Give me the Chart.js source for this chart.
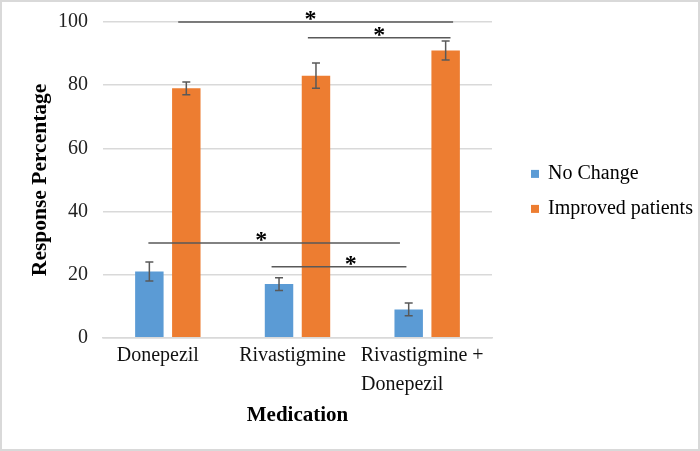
<!DOCTYPE html>
<html>
<head>
<meta charset="utf-8">
<script src="https://cdn.jsdelivr.net/npm/chart.js@4"></script>
<style>
  html, body { margin: 0; padding: 0; background: #fff; }
  #wrap { width: 700px; height: 451px; position: relative; box-sizing: border-box; border: 2px solid #d9d9d9; }
</style>
</head>
<body>
<div id="wrap"><canvas id="chart"></canvas></div>
<script>
const categories = ['Donepezil    ', 'Rivastigmine  ', ['Rivastigmine +  ', 'Donepezil          ']];
const seriesNames = ['No Change', 'Improved patients'];
const noChange = [21, 17, 9];
const noChangeErr = [3, 2, 2];
const improved = [79, 83, 91];
const improvedErr = [2, 4, 3];
const yTicks = [0, 20, 40, 60, 80, 100];

// significance brackets: y value, x range in category units, star x
const sigLines = [
  { y: 100, from: 0.08, to: 2.2, star: 1.1 },
  { y: 95, from: 1.08, to: 2.18, star: 1.63 },
  { y: 30, from: -0.15, to: 1.79, star: 0.72 },
  { y: 22.5, from: 0.8, to: 1.84, star: 1.41 }
];

const serif = "'Liberation Serif', 'Times New Roman', serif";

const errorBars = {
  id: 'errorBars',
  afterDatasetsDraw(chart) {
    const ctx = chart.ctx;
    const yScale = chart.scales.y;
    const errs = [noChangeErr, improvedErr];
    ctx.save();
    ctx.strokeStyle = '#595959';
    ctx.lineWidth = 1.5;
    chart.data.datasets.forEach((ds, di) => {
      const meta = chart.getDatasetMeta(di);
      meta.data.forEach((bar, i) => {
        const v = ds.data[i], e = errs[di][i];
        const y1 = yScale.getPixelForValue(v + e);
        const y2 = yScale.getPixelForValue(v - e);
        ctx.beginPath();
        ctx.moveTo(bar.x, y1); ctx.lineTo(bar.x, y2);
        ctx.moveTo(bar.x - 4, y1); ctx.lineTo(bar.x + 4, y1);
        ctx.moveTo(bar.x - 4, y2); ctx.lineTo(bar.x + 4, y2);
        ctx.stroke();
      });
    });
    ctx.restore();
  }
};

const sigPlugin = {
  id: 'sigPlugin',
  afterDatasetsDraw(chart) {
    const ctx = chart.ctx;
    const xs = chart.scales.x, ys = chart.scales.y;
    const w = xs.width / categories.length;
    const px = v => xs.getPixelForValue(0) + v * w;
    ctx.save();
    ctx.strokeStyle = '#595959';
    ctx.lineWidth = 1.5;
    ctx.fillStyle = '#000';
    ctx.font = 'bold 24px ' + serif;
    ctx.textAlign = 'center';
    ctx.textBaseline = 'alphabetic';
    sigLines.forEach(s => {
      const y = ys.getPixelForValue(s.y);
      ctx.beginPath();
      ctx.moveTo(px(s.from), y);
      ctx.lineTo(px(s.to), y);
      ctx.stroke();
      ctx.fillText('*', px(s.star), y + 4);
    });
    ctx.restore();
  }
};

// legend drawn to the right of the plot, like the original
const sideLegend = {
  id: 'sideLegend',
  afterDraw(chart) {
    const ctx = chart.ctx;
    const a = chart.chartArea;
    const mid = (a.top + a.bottom) / 2;
    const rows = [mid - 6, mid + 29];
    ctx.save();
    ctx.font = '20px ' + serif;
    ctx.textBaseline = 'middle';
    chart.data.datasets.forEach((ds, i) => {
      ctx.fillStyle = ds.backgroundColor;
      ctx.fillRect(a.right + 39, rows[i] - 4, 8, 8);
      ctx.fillStyle = '#000';
      ctx.fillText(ds.label, a.right + 56, rows[i]);
    });
    ctx.restore();
  }
};

new Chart(document.getElementById('chart'), {
  type: 'bar',
  data: {
    labels: categories,
    datasets: [
      { label: seriesNames[0], data: noChange, backgroundColor: '#5b9bd5' },
      { label: seriesNames[1], data: improved, backgroundColor: '#ed7d31' }
    ]
  },
  options: {
    responsive: true,
    maintainAspectRatio: false,
    animation: false,
    layout: { padding: { top: 20, right: 206, left: 20, bottom: 21 } },
    datasets: { bar: { categoryPercentage: 0.57, barPercentage: 0.77 } },
    plugins: {
      legend: { display: false },
      tooltip: { enabled: false }
    },
    scales: {
      y: {
        min: 0, max: 100,
        afterBuildTicks: s => { s.ticks = yTicks.map(v => ({ value: v })); },
        afterFit: s => { s.width = 81; s.paddingTop = 0; s.paddingBottom = 0; },
        ticks: { color: '#222', padding: 15, font: { family: serif, size: 20 } },
        grid: { color: '#d9d9d9', lineWidth: 1.5, drawTicks: false },
        border: { display: false },
        title: { display: true, text: 'Response Percentage', color: '#000', padding: { top: 6, bottom: 6 },
                 font: { family: serif, size: 21.5, weight: 'bold' } }
      },
      x: {
        ticks: { color: '#111', padding: 3, maxRotation: 0, minRotation: 0, autoSkip: false,
                 font: { family: serif, size: 20, lineHeight: 1.45 } },
        grid: { display: false, drawTicks: false },
        border: { color: '#d9d9d9', width: 1.5 },
        title: { display: true, text: 'Medication', color: '#000', padding: { top: 1, bottom: 0 },
                 font: { family: serif, size: 21, weight: 'bold' } }
      }
    }
  },
  plugins: [errorBars, sigPlugin, sideLegend]
});
</script>
</body>
</html>
